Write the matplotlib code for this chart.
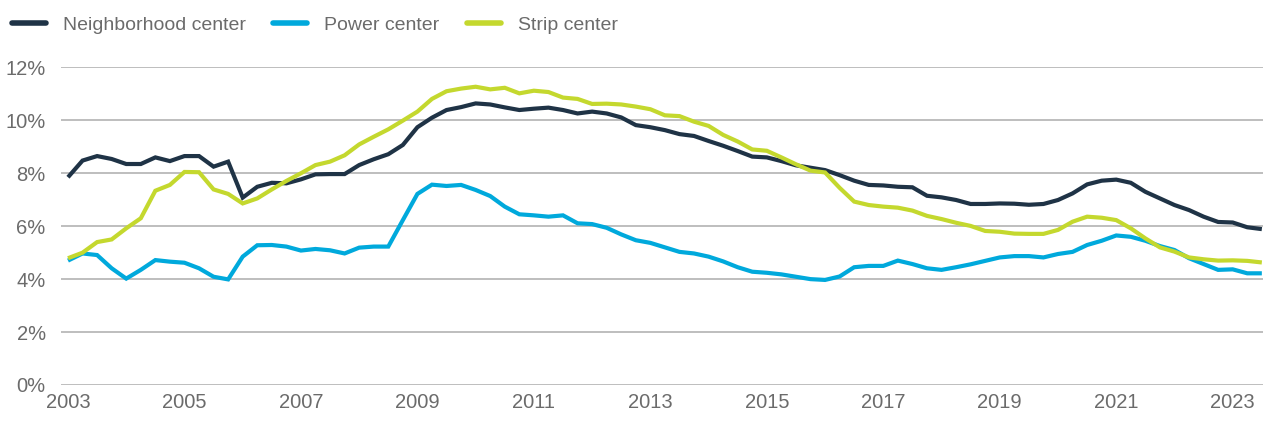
import matplotlib
matplotlib.use('Agg')
import matplotlib.pyplot as plt
import numpy as np

# quarterly vacancy rates, 2003 Q1 .. 2023 Q3
START_YEAR = 2003
NEIGHBORHOOD = [
    7.85, 8.48, 8.65, 8.54, 8.35, 8.35, 8.60, 8.46, 8.65, 8.65,
    8.25, 8.44, 7.08, 7.49, 7.64, 7.62, 7.77, 7.96, 7.97, 7.97,
    8.31, 8.53, 8.72, 9.07, 9.74, 10.10, 10.39, 10.50, 10.64, 10.60,
    10.49, 10.39, 10.44, 10.48, 10.39, 10.26, 10.33, 10.26, 10.11, 9.82,
    9.74, 9.63, 9.48, 9.41, 9.22, 9.04, 8.84, 8.63, 8.60, 8.46,
    8.30, 8.21, 8.12, 7.93, 7.72, 7.56, 7.54, 7.49, 7.47, 7.15,
    7.09, 6.99, 6.84, 6.84, 6.86, 6.85, 6.81, 6.84, 6.99, 7.24,
    7.58, 7.72, 7.76, 7.64, 7.30, 7.05, 6.80, 6.61, 6.36, 6.16,
    6.14, 5.96, 5.89,
]
POWER = [
    4.70, 4.97, 4.91, 4.41, 4.02, 4.35, 4.72, 4.66, 4.62, 4.41,
    4.09, 3.99, 4.85, 5.28, 5.29, 5.23, 5.08, 5.14, 5.09, 4.97,
    5.19, 5.23, 5.23, 6.23, 7.22, 7.57, 7.52, 7.56, 7.37, 7.14,
    6.74, 6.45, 6.41, 6.36, 6.41, 6.11, 6.08, 5.94, 5.69, 5.47,
    5.37, 5.20, 5.03, 4.97, 4.85, 4.67, 4.45, 4.28, 4.24, 4.18,
    4.09, 4.00, 3.97, 4.10, 4.45, 4.50, 4.50, 4.70, 4.57, 4.41,
    4.35, 4.45, 4.56, 4.69, 4.82, 4.87, 4.87, 4.82, 4.95, 5.03,
    5.29, 5.45, 5.65, 5.60, 5.45, 5.25, 5.10, 4.79, 4.57, 4.35,
    4.37, 4.22, 4.22,
]
STRIP = [
    4.79, 5.00, 5.40, 5.50, 5.92, 6.30, 7.34, 7.56, 8.05, 8.04,
    7.39, 7.22, 6.86, 7.05, 7.39, 7.71, 8.00, 8.31, 8.44, 8.68,
    9.09, 9.38, 9.66, 9.99, 10.33, 10.81, 11.10, 11.20, 11.27, 11.17,
    11.23, 11.02, 11.12, 11.07, 10.86, 10.81, 10.62, 10.63, 10.60, 10.52,
    10.42, 10.19, 10.16, 9.95, 9.79, 9.45, 9.20, 8.90, 8.85, 8.60,
    8.34, 8.10, 8.03, 7.45, 6.93, 6.80, 6.74, 6.70, 6.59, 6.39,
    6.27, 6.13, 6.01, 5.82, 5.79, 5.72, 5.71, 5.71, 5.86, 6.17,
    6.36, 6.32, 6.23, 5.92, 5.54, 5.20, 5.04, 4.82, 4.75, 4.70,
    4.71, 4.69, 4.63,
]
SERIES = ['Neighborhood center', 'Power center', 'Strip center']
COLORS = ['#1f3346', '#00a9dc', '#c4d82e']
YTICKS = [0, 2, 4, 6, 8, 10, 12]
XTICKS = list(range(2003, 2024, 2))

TEXT = '#6b6b6b'
plt.rcParams['font.family'] = ['Liberation Sans', 'DejaVu Sans']

x = START_YEAR + np.arange(len(NEIGHBORHOOD)) / 4

fig = plt.figure(figsize=(12.63, 4.24), dpi=100)
ax = fig.add_axes([0.0483, 0.092, 0.9517, 0.749])

for name, vals, c in zip(SERIES, [NEIGHBORHOOD, POWER, STRIP], COLORS):
    ax.plot(x, vals, color=c, lw=3.0, label=name, solid_joinstyle='miter', solid_capstyle='butt')

ax.set_xlim(2003 - 0.12, 2023.52)
ax.set_ylim(0, 12)
ax.set_yticks(YTICKS)
ax.set_yticklabels([f'{v}%' for v in YTICKS])
ax.set_xticks(XTICKS)
ax.set_xticklabels([str(v) for v in XTICKS])
ax.tick_params(axis='both', length=0, labelsize=14.5, colors=TEXT)
ax.tick_params(axis='y', pad=11)
ax.tick_params(axis='x', pad=6)
ax.grid(True, axis='y', color='#b3b3b3', lw=1.2)
ax.grid(False, axis='x')
ax.set_axisbelow(True)
for s in ax.spines.values():
    s.set_visible(False)

leg = ax.legend(loc='upper left', bbox_to_anchor=(0.0, 0.99), bbox_transform=fig.transFigure,
                ncol=3, frameon=False, fontsize=14, handlelength=1.75, handletextpad=0.87,
                columnspacing=1.4, borderaxespad=0.2, borderpad=0.42)
for t in leg.get_texts():
    t.set_color(TEXT)
for h in leg.get_lines():
    h.set_linewidth(4)
    h.set_solid_capstyle('round')

fig.savefig('out.png', dpi=100)
